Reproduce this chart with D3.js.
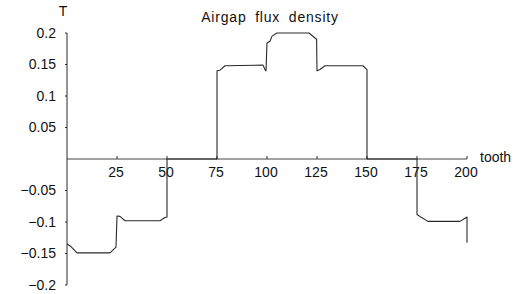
<!DOCTYPE html>
<html>
<head>
<meta charset="utf-8">
<script src="https://cdn.jsdelivr.net/npm/d3@7"></script>
<style>
  body { margin: 0; background: #fff; }
  svg { display: block; font-family: "Liberation Sans", Arial, sans-serif; }
</style>
</head>
<body>
<svg id="chart" width="527" height="294"></svg>
<script>
// flux density along the airgap (tooth index, tesla)
const toothIdx = [0, 2, 5, 21.5, 24.5, 25, 26.5, 29, 46.5, 49, 50, 50, 75, 75, 76.5, 79, 98, 99, 99.5,
  100, 101.5, 102.5, 105, 121, 122.5, 124, 124.8, 125, 126.5, 129, 148, 150, 150, 175, 175, 177.3,
  180.5, 196.5, 199, 200, 200];
const fluxT = [-0.135, -0.139, -0.149, -0.149, -0.14, -0.0905, -0.091, -0.098, -0.098, -0.093, -0.092, 0, 0,
  0.14, 0.141, 0.148, 0.149, 0.142, 0.14, 0.184, 0.187, 0.195, 0.2, 0.2, 0.196, 0.192, 0.19, 0.14, 0.142,
  0.148, 0.148, 0.142, 0, 0, -0.088, -0.093, -0.099, -0.099, -0.094, -0.092, -0.133];

const xTicks = [25, 50, 75, 100, 125, 150, 175, 200];
const yTicks = [0.2, 0.15, 0.1, 0.05, -0.05, -0.1, -0.15, -0.2];
const yTickLabels = ["0.2", "0.15", "0.1", "0.05", "\u22120.05", "\u22120.1", "\u22120.15", "\u22120.2"];

const INK = '#2a2a2a', FONT_SIZE = 14;

const svg = d3.select('svg#chart');

const x = d3.scaleLinear().domain([0, 200]).range([67, 467]);
const y = d3.scaleLinear().domain([-0.2, 0.2]).range([285, 33]);

// y axis line (left, full range)
svg.append('line')
  .attr('x1', x(0)).attr('x2', x(0))
  .attr('y1', y(0.2)).attr('y2', y(-0.2))
  .attr('stroke', INK).attr('stroke-width', 1);

// x axis through zero
svg.append('line')
  .attr('x1', x(0)).attr('x2', x(200))
  .attr('y1', y(0)).attr('y2', y(0))
  .attr('stroke', '#444').attr('stroke-width', 1);

// y ticks + labels
svg.append('g').selectAll('line').data(yTicks).enter().append('line')
  .attr('x1', x(0) - 2).attr('x2', x(0))
  .attr('y1', d => y(d)).attr('y2', d => y(d))
  .attr('stroke', INK);
svg.append('g').selectAll('text').data(yTicks).enter().append('text')
  .attr('x', 56)
  .attr('y', d => y(d))
  .attr('dy', '0.35em')
  .attr('text-anchor', 'end')
  .attr('font-size', FONT_SIZE + 'px')
  .attr('fill', '#111')
  .text((d, i) => yTickLabels[i]);

// x ticks + labels
svg.append('g').selectAll('line').data(xTicks).enter().append('line')
  .attr('x1', d => x(d)).attr('x2', d => x(d))
  .attr('y1', y(0) - 3).attr('y2', y(0))
  .attr('stroke', INK);
svg.append('g').selectAll('text').data(xTicks).enter().append('text')
  .attr('x', d => x(d) - 1)
  .attr('y', y(0) + 18)
  .attr('text-anchor', 'middle')
  .attr('font-size', FONT_SIZE + 'px')
  .attr('fill', '#111')
  .text(d => d);

// axis names + title
svg.append('text').attr('x', 63).attr('y', 16).attr('text-anchor', 'middle')
  .attr('font-size', FONT_SIZE + 'px').attr('fill', '#111').text('T');
svg.append('text').attr('x', 480).attr('y', 162)
  .attr('font-size', FONT_SIZE + 'px').attr('fill', '#111').text('tooth');
svg.append('text').attr('x', 270).attr('y', 22).attr('text-anchor', 'middle')
  .attr('font-size', FONT_SIZE + 'px').attr('fill', '#111')
  .attr('letter-spacing', '0.8px').attr('word-spacing', '4px')
  .text('Airgap flux density');

// the curve
const line = d3.line()
  .x((d, i) => x(toothIdx[i]))
  .y(d => y(d));

svg.append('path')
  .datum(fluxT)
  .attr('d', line)
  .attr('fill', 'none')
  .attr('stroke', INK)
  .attr('stroke-width', 1.1)
  .attr('stroke-linejoin', 'round');
</script>
</body>
</html>
